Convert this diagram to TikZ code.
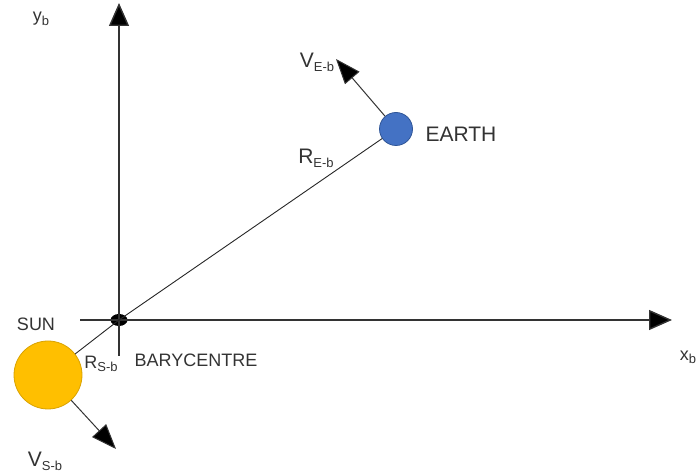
\documentclass[tikz,border=0pt]{standalone}
\usepackage{fontspec}
\setmainfont{Liberation Sans}
\usetikzlibrary{arrows.meta,shapes.geometric}
\definecolor{earthfill}{HTML}{4472C4}
\definecolor{earthedge}{HTML}{2F5597}
\definecolor{sunfill}{HTML}{FFBF00}
\definecolor{sunedge}{HTML}{D9A200}
\definecolor{txt}{HTML}{333333}
\newcommand{\withsub}[2]{#1\raisebox{-0.35ex}{\fontsize{6.5}{7}\selectfont #2}}
\begin{document}
\begin{tikzpicture}[x=0.5pt,y=-0.5pt,
  axis/.style={draw=black!80, line width=0.7pt, -{Triangle[length=11.5pt,width=10pt,fill=black]}},
  vec/.style={draw=black!80, line width=0.5pt, -{Triangle[length=12.5pt,width=9.5pt,fill=black]}},
  radius line/.style={draw=black!85, line width=0.45pt},
  lbl/.style={text=txt, inner sep=0pt, font=\fontsize{9}{10}\selectfont},
  biglbl/.style={text=txt, inner sep=0pt, font=\fontsize{10.5}{12}\selectfont}]
\useasboundingbox (0,0) rectangle (700,474);
% barycentre
\node[ellipse, fill=black, minimum width=8.5pt, minimum height=6pt, inner sep=0pt] (bary) at (119,320) {};
% axes
\coordinate (ybot) at (119,356);
\coordinate (ytip) at (119,3);
\coordinate (xleft) at (80,320);
\coordinate (xtip) at (672,320);
\draw[axis] (ybot) -- (ytip);
\draw[axis] (xleft) -- (xtip);
% bodies
\node[circle, fill=earthfill, draw=earthedge, line width=0.4pt, minimum size=16.5pt, inner sep=0pt] (earth) at (396,129) {};
\node[circle, fill=sunfill, draw=sunedge, line width=0.4pt, minimum size=34pt, inner sep=0pt] (sun) at (48,375) {};
% position lines
\draw[radius line] (bary.center) -- (earth);
\draw[radius line] (sun) -- (bary.center);
% velocities
\coordinate (vetip) at (336,59);
\coordinate (vstip) at (116,449);
\draw[vec] (earth) -- (vetip);
\draw[vec] (sun) -- (vstip);
% labels
\node[lbl] (ylab) at (41,19) {\withsub{y}{b}};
\node[lbl] (xlab) at (688,357) {\withsub{x}{b}};
\node[biglbl] (velab) at (317,62) {\withsub{V}{E-b}};
\node[biglbl] (earthlab) at (461,134) {EARTH};
\node[biglbl] (relab) at (316,158) {\withsub{R}{E-b}};
\node[lbl] (sunlab) at (36,324) {SUN};
\node[lbl] (rslab) at (101,364) {\withsub{R}{S-b}};
\node[lbl] (barylab) at (196,360) {BARYCENTRE};
\node[biglbl] (vslab) at (45,461) {\withsub{V}{S-b}};
\end{tikzpicture}
\end{document}
